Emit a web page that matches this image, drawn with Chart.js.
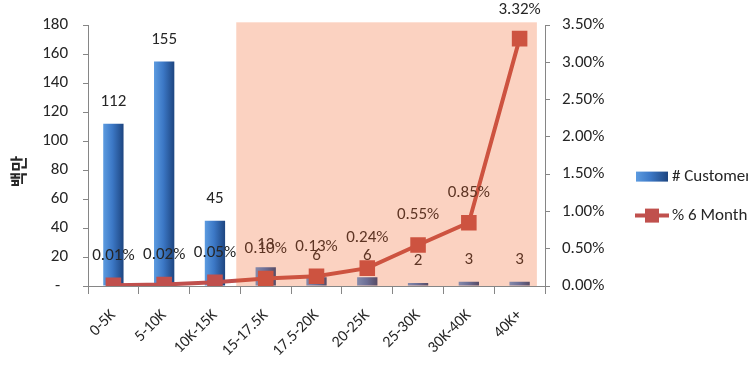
<!DOCTYPE html>
<html>
<head>
<meta charset="utf-8">
<script src="https://cdn.jsdelivr.net/npm/chart.js@4"></script>
<style>
  html, body { margin: 0; padding: 0; background: #ffffff; }
  #wrap { width: 748px; height: 370px; position: relative; }
</style>
</head>
<body>
<div id="wrap"><canvas id="c" width="748" height="370"></canvas></div>
<script>
// ---- data ----
const categories = ['0-5K', '5-10K', '10K-15K', '15-17.5K', '17.5-20K', '20-25K', '25-30K', '30K-40K', '40K+'];
const customers = [112, 155, 45, 13, 6, 6, 2, 3, 3];
const delinquencyPct = [0.01, 0.02, 0.05, 0.10, 0.13, 0.24, 0.55, 0.85, 3.32];
const seriesNames = ['# Customers', '% 6 Month Delinquency'];
const yAxisTitle = '백만';
const leftTicks = { min: 0, max: 180, step: 20 };
const rightTicks = { min: 0, max: 3.5, step: 0.5 };
// highlighted band, in category-index units and left-axis units
const bandFrom = 2.42, bandTo = 8.34, bandTop = 182;

const FONT = "Carlito, Lato, sans-serif";
const TXT = '#262626';
const AXIS = '#868686';
const RED = '#c0504d';

function barGradient(c2d, x0, x1) {
  const g = c2d.createLinearGradient(x0, 0, x1, 0);
  g.addColorStop(0, '#5c9be0');
  g.addColorStop(0.45, '#3c78c6');
  g.addColorStop(1, '#1d4580');
  return g;
}

const labelPlugin = {
  id: 'labelsAndBand',
  afterDatasetsDraw(chart) {
    const c = chart.ctx;
    c.save();
    c.font = '17px ' + FONT;
    c.fillStyle = TXT;
    c.textAlign = 'center';
    c.textBaseline = 'middle';
    chart.getDatasetMeta(0).data.forEach((el, i) => {
      c.fillText(String(customers[i]), el.x, el.y - 22);
    });
    chart.getDatasetMeta(1).data.forEach((el, i) => {
      const y = Math.max(el.y - 30, 10);
      c.fillText(delinquencyPct[i].toFixed(2) + '%', el.x, y);
    });
    // translucent highlight band drawn over the marks
    const xs = chart.scales.x, ys = chart.scales.y;
    const x0 = xs.getPixelForValue(bandFrom), x1 = xs.getPixelForValue(bandTo);
    const y0 = ys.getPixelForValue(bandTop), y1 = ys.getPixelForValue(0);
    c.fillStyle = 'rgba(240,92,34,0.28)';
    c.fillRect(x0, y0, x1 - x0, y1 - y0);
    c.restore();
  },
  afterDraw(chart) {
    const c = chart.ctx;
    const a = chart.chartArea;
    c.save();
    // y axis title
    c.translate(a.left - 69, (a.top + a.bottom) / 2 + 16);
    c.rotate(-Math.PI / 2);
    c.font = 'bold 17px "Noto Sans CJK KR", sans-serif';
    c.fillStyle = TXT;
    c.textAlign = 'center';
    c.textBaseline = 'middle';
    c.fillText(yAxisTitle, 0, 0);
    c.restore();
    // legend
    c.save();
    const lx = a.right + 91;
    const ly1 = (a.top + a.bottom) / 2 + 21;
    const ly2 = ly1 + 39;
    c.fillStyle = barGradient(c, lx, lx + 32);
    c.fillRect(lx, ly1 - 5, 32, 10);
    c.strokeStyle = RED;
    c.lineWidth = 4;
    c.beginPath();
    c.moveTo(lx - 1, ly2);
    c.lineTo(lx + 33, ly2);
    c.stroke();
    c.fillStyle = RED;
    c.fillRect(lx + 9, ly2 - 7, 14, 14);
    c.font = '17px ' + FONT;
    c.fillStyle = TXT;
    c.textAlign = 'left';
    c.textBaseline = 'middle';
    c.fillText(seriesNames[0], lx + 36, ly1);
    c.fillText(seriesNames[1], lx + 36, ly2);
    c.restore();
  }
};

new Chart(document.getElementById('c'), {
  data: {
    labels: categories,
    datasets: [
      {
        type: 'bar',
        label: seriesNames[0],
        data: customers,
        yAxisID: 'y',
        order: 2,
        categoryPercentage: 1,
        barPercentage: 0.4,
        backgroundColor: (ctx) => {
          const xs = ctx.chart.scales && ctx.chart.scales.x;
          if (!xs || xs.width == null) return '#3c78c6';
          const cx = xs.getPixelForValue(ctx.dataIndex);
          const hw = xs.width / categories.length * 0.2;
          return barGradient(ctx.chart.ctx, cx - hw, cx + hw);
        },
        borderWidth: 0
      },
      {
        type: 'line',
        label: seriesNames[1],
        data: delinquencyPct,
        yAxisID: 'y1',
        order: 1,
        borderColor: RED,
        backgroundColor: RED,
        borderWidth: 4,
        tension: 0,
        pointStyle: 'rect',
        pointRadius: 11,
        pointHoverRadius: 11,
        pointBorderWidth: 0,
        pointBackgroundColor: RED
      }
    ]
  },
  options: {
    responsive: false,
    animation: false,
    events: [],
    layout: { padding: { top: 18, left: 0, right: 0, bottom: 0 } },
    plugins: { legend: { display: false }, tooltip: { enabled: false } },
    scales: {
      x: {
        offset: true,
        afterFit: (s) => { s.height = 84; },
        grid: { display: true, drawOnChartArea: false, offset: true, color: AXIS, tickLength: 8, lineWidth: 1 },
        border: { display: true, color: AXIS, width: 1 },
        ticks: { color: TXT, font: { family: FONT, size: 16 }, maxRotation: 45, minRotation: 45, padding: 12, autoSkip: false }
      },
      y: {
        position: 'left',
        min: leftTicks.min, max: leftTicks.max,
        afterFit: (s) => { s.width = 88; },
        grid: { display: true, drawOnChartArea: false, color: AXIS, tickLength: 5 },
        border: { display: true, color: AXIS, width: 1 },
        ticks: {
          stepSize: leftTicks.step, color: TXT, font: { family: FONT, size: 17 }, padding: 15,
          callback: (v) => v === 0 ? '-  ' : String(v)
        }
      },
      y1: {
        position: 'right',
        min: rightTicks.min, max: rightTicks.max,
        afterFit: (s) => { s.width = 203; },
        grid: { display: true, drawOnChartArea: false, color: AXIS, tickLength: 5 },
        border: { display: true, color: AXIS, width: 1 },
        ticks: {
          stepSize: rightTicks.step, color: TXT, font: { family: FONT, size: 17 }, padding: 12,
          callback: (v) => Number(v).toFixed(2) + '%'
        }
      }
    }
  },
  plugins: [labelPlugin]
});
</script>
</body>
</html>
